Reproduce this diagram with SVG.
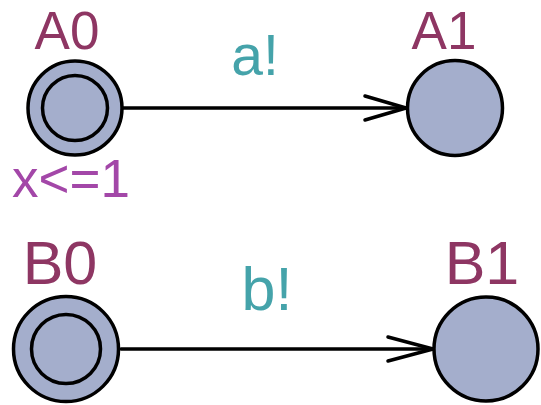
<svg xmlns="http://www.w3.org/2000/svg" width="541" height="405" viewBox="0 0 541 405">
<style>
.loc{fill:#a4aecc;stroke:#000;stroke-width:3.5}
.edge{fill:none;stroke:#000;stroke-width:3.5;stroke-linecap:round;stroke-linejoin:round}
.name{font-family:"Liberation Sans",Arial,sans-serif;fill:#8e3663;text-anchor:middle}
.sync{font-family:"Liberation Sans",Arial,sans-serif;fill:#45a3aa;text-anchor:middle}
.inv{font-family:"Liberation Sans",Arial,sans-serif;fill:#a347a8}
</style>
<rect width="541" height="405" fill="#fff"/>
<g id="connectors">
<line class="edge" x1="123" y1="108" x2="406" y2="108"/>
<polyline class="edge" points="365,96 406,108 365,120"/>
<line class="edge" x1="121" y1="349" x2="433" y2="349"/>
<polyline class="edge" points="388,337 433,349 388,361"/>
</g>
<g id="A0">
<circle class="loc" cx="75" cy="108" r="47"/>
<circle class="loc" cx="75" cy="108" r="32.5"/>
<text class="name" x="67" y="49" font-size="53">A0</text>
<text class="inv" x="12" y="197" font-size="53">x&lt;=1</text>
</g>
<g id="A1">
<circle class="loc" cx="455" cy="108" r="47.5"/>
<text class="name" x="444" y="49" font-size="53">A1</text>
</g>
<text class="sync" x="255" y="75" font-size="57">a!</text>
<g id="B0">
<circle class="loc" cx="66" cy="349" r="52.5"/>
<circle class="loc" cx="66" cy="349" r="34.5"/>
<text class="name" x="60" y="284" font-size="61">B0</text>
</g>
<g id="B1">
<circle class="loc" cx="486" cy="349" r="52"/>
<text class="name" x="482" y="284" font-size="61">B1</text>
</g>
<text class="sync" x="267" y="310" font-size="61">b!</text>
</svg>
